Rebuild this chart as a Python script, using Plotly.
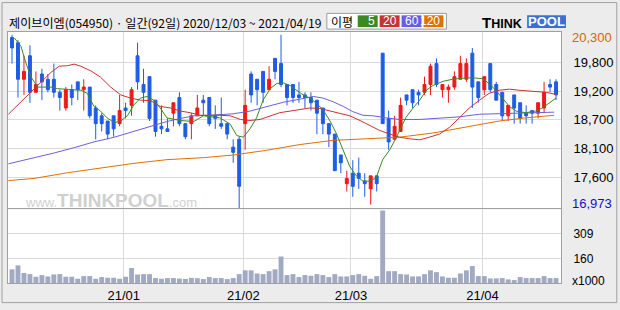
import plotly.graph_objects as go

# ---------------- data ----------------
opens  = [20250,20150,19450,19900,19200,19550,19450,19450,19200,18900,19250,19400,19250,19300,18900,18750,18650,18750,18600,18900,
          18950,19900,19350,19500,19050,18550,18500,18800,19100,18600,18600,18750,19050,19100,18750,18600,18600,18150,18300,18600,
          19550,19450,19600,19250,19850,19750,19350,19350,19150,19150,19100,19050,18900,18600,18400,18000,17450,17650,17650,17500,
          17350,17600,19950,18700,18300,18450,19150,19250,19200,19200,19350,19750,19250,19250,19300,19450,19450,19950,19400,19250,
          19750,19350,19200,18750,19150,19000,18800,18850,18800,18900,19350,19400]
highs  = [20300,20200,19900,20100,19600,19650,19550,19750,19250,19300,19350,19400,19450,19300,18950,18800,18650,18750,19150,19000,
          19300,20150,19650,19500,19050,18950,18700,19000,19200,18600,18800,19150,19150,19100,18950,19100,18600,18300,18350,19250,
          19600,19450,19600,19700,19850,20300,19350,19350,19400,19200,19200,19050,18900,18600,18400,18000,17700,17900,17950,17650,
          17600,17600,19950,18850,18750,19100,19150,19250,19250,19500,19750,19850,19350,19350,19600,19900,19850,20050,19400,19500,
          19750,19400,19200,18950,19150,19000,18950,18850,19000,19400,19450,19450]
lows   = [19750,19100,19150,19000,19200,19050,19200,19100,18850,18850,18950,19050,18850,18700,18300,18450,18300,18350,18550,18700,
          18750,19250,19000,18650,18350,18400,18450,18550,18550,18300,18300,18750,18750,18550,18500,18500,18300,17850,16973,18100,
          19000,18950,19000,19250,19450,19300,18950,19000,19000,18900,18850,18400,18400,18150,17700,17650,17300,17200,17350,17200,
          17050,17300,18600,18100,18300,18450,18950,18900,18950,19150,19150,19300,19100,19000,19250,19450,19400,18900,19000,19150,
          19200,19050,18650,18650,18600,18600,18600,18600,18700,18800,19200,19050]
closes = [20050,19450,19600,19200,19350,19400,19250,19200,19100,19250,19100,19250,19300,18750,18600,18600,18400,18500,18850,18850,
          19250,19400,19200,18700,18450,18500,18450,19000,18600,18350,18750,18900,19000,18600,18700,18550,18400,18050,17400,18950,
          19150,19250,19200,19450,19600,19350,19100,19100,19100,19100,19000,18800,18600,18400,17700,17850,17550,17400,17550,17450,
          17600,17450,18600,18250,18550,18950,19050,19000,19150,19350,19700,19350,19350,19300,19500,19750,19750,19300,19100,19500,
          19250,19050,18750,18950,18900,18700,18750,18800,19000,19200,19300,19150]
volumes = [94,118,72,65,49,59,51,63,65,49,49,37,53,53,37,47,43,43,37,49,
           102,63,65,65,41,37,41,41,38,36,42,40,35,47,41,41,35,41,65,88,
           88,69,65,83,94,172,59,65,47,59,55,65,59,47,65,51,51,59,65,55,
           37,53,452,83,83,65,63,51,51,65,88,77,51,43,43,69,88,114,53,53,
           39,39,41,33,29,47,41,41,41,53,41,41]

ma5_x = [0.4,1.5,2.3,3.2,4.3,6.5,7.6,9.3,11.5,12.6,13.7,14.8,15.9,17.1,18.2,19.3,20.4,21.5,22.6,23.7,24.8,25.9,28.2,30.4,32,
         34.8,36.5,37.6,38.7,39.8,40.9,42,43.2,44.3,45.4,46.5,47.6,48.7,49.8,50.9,52,53.2,54.3,55.4,56.5,57.6,58.7,59.8,60.9,
         62,63.2,64.3,65.4,65.9,67.1,68.2,69.3,70.4,72.1,73.7,75.4,77,78.7,79.8,80.9,82,83.2,84.3,85.9,87.6,88.7,89.8,91]
ma5 = [20240,20080,19770,19490,19300,19300,19270,19260,19240,19180,18930,18840,18710,18620,18650,18750,18960,19090,19120,19050,
       18900,18710,18660,18640,18750,18710,18590,18370,18340,18500,18710,19050,19270,19370,19380,19330,19240,19150,19090,18990,
       18870,18650,18400,18090,17780,17600,17500,17500,17560,17910,18100,18340,18590,18720,18900,19050,19240,19330,19410,19450,
       19470,19480,19460,19370,19240,19090,18930,18840,18810,18840,18900,18990,19090]
ma20_x = [-0.6,1.5,3.2,4.8,6.5,7.9,9.3,10.4,11.5,13.2,14.8,16.5,18.2,19.8,21.5,23.2,24.8,26.5,28.2,29.8,31.5,34.8,36.5,38.2,
          39.8,41.5,43.2,44.8,46.5,48.2,49.8,51.5,53.2,54.8,56.5,58.2,59.8,61.5,63.2,64.8,66.5,68.2,69.8,71.5,73.2,74.8,76.5,
          78.2,79.8,81.5,83.2,84.8,87.1,89.3,91]
ma20 = [18780,19020,19210,19400,19580,19700,19710,19740,19700,19610,19490,19300,19150,19090,19050,19040,18930,18900,18840,18810,
        18760,18760,18750,18680,18660,18680,18750,18810,18840,18870,18900,18890,18840,18790,18750,18660,18560,18470,18400,18340,
        18310,18290,18340,18400,18530,18710,18900,19050,19180,19240,19260,19240,19220,19200,19160]
ma60_x = [-0.6,3.7,7.1,10.4,13.7,17.1,20.4,23.2,25.9,28.2,30.4,33.2,37.1,39.8,42.6,45.4,48.2,50.4,52,53.7,55.4,57,58.7,60.4,
          62.6,64.8,68.2,71.5,74.8,78.2,81.5,84.8,88.2,90.7]
ma60 = [17830,17940,18040,18140,18250,18340,18450,18540,18640,18700,18750,18760,18790,18840,18930,19010,19070,19120,19090,19020,
        18930,18830,18760,18750,18710,18680,18680,18700,18730,18780,18790,18790,18810,18820]
ma120_x = [-0.6,3.7,9.3,14.8,20.4,25.9,32.2,37.1,42.6,48.2,53.7,59.3,64.8,70.4,75.9,81.5,85.9,90.7]
ma120 = [17510,17550,17660,17750,17840,17910,17950,18000,18090,18200,18280,18310,18340,18420,18530,18650,18710,18760]

month_start_idx = [19, 39, 57, 79]
month_labels = ["21/01", "21/02", "21/03", "21/04"]
price_ticks = [17575, 18125, 18675, 19225, 19775]
price_labels = ["17,600", "18,100", "18,700", "19,200", "19,800"]
vol_ticks = [160, 309]
vol_labels = ["160", "309"]
price_max_label = "20,300"
price_min_label = "16,973"
title_text = "제이브이엠(054950) · 일간(92일) 2020/12/03 ~ 2021/04/19"

# ---------------- style ----------------
RED = "#f01818"
BLUE = "#1f5ce6"
VOLC = "#a1aac2"
C5, C20, C60, C120 = "#3a8a22", "#c83232", "#6a5ee0", "#e07000"
GRID = "#dadada"
FRAME = "#a0a0a0"
FONT = "Liberation Sans"

idx = list(range(len(closes)))

fig = go.Figure()
fig.add_trace(go.Candlestick(
    x=idx, open=opens, high=highs, low=lows, close=closes,
    increasing=dict(line=dict(color=RED, width=1), fillcolor=RED),
    decreasing=dict(line=dict(color=BLUE, width=1), fillcolor=BLUE),
    whiskerwidth=0, xaxis="x", yaxis="y", hoverinfo="skip", showlegend=False))
for xs, ys, col in [(ma120_x, ma120, C120), (ma60_x, ma60, C60), (ma20_x, ma20, C20), (ma5_x, ma5, C5)]:
    fig.add_trace(go.Scatter(x=xs, y=ys, mode="lines", line=dict(color=col, width=1),
                             xaxis="x", yaxis="y", hoverinfo="skip", showlegend=False))
fig.add_trace(go.Bar(x=idx, y=volumes, marker=dict(color=VOLC, line=dict(width=0)), width=0.82,
                     xaxis="x2", yaxis="y2", hoverinfo="skip", showlegend=False))

L, R, T, B = 7, 58, 32, 22
W, H = 620, 310
PW, PH = W - L - R, H - T - B
def px(x): return (x - L) / PW
def py(y): return (H - B - y) / PH

tick_pos = [i - 0.3 for i in month_start_idx]
common_x = dict(range=[-0.67, 91.83], showgrid=True, gridcolor=GRID, gridwidth=1, zeroline=False,
                showline=True, linecolor=FRAME, mirror=True, ticks="", tickvals=tick_pos, fixedrange=True)
common_y = dict(side="right", showgrid=True, gridcolor=GRID, zeroline=False, showline=True, linecolor=FRAME,
                mirror=True, ticks="", ticklabelstandoff=9, fixedrange=True)

fig.update_layout(
    width=W, height=H, margin=dict(l=L, r=R, t=T, b=B, pad=0),
    paper_bgcolor="#ececec", plot_bgcolor="white", showlegend=False,
    font=dict(family=FONT, color="black"),
    xaxis=dict(**common_x, domain=[0, 1], anchor="y", showticklabels=False, rangeslider=dict(visible=False)),
    xaxis2=dict(**common_x, domain=[0, 1], anchor="y2", matches="x", ticktext=month_labels,
                tickfont=dict(size=13, family=FONT, color="black")),
    yaxis=dict(**common_y, domain=[76 / PH, 1], anchor="x", range=[16975, 20355],
               tickvals=price_ticks, ticktext=price_labels, tickfont=dict(size=13, family=FONT, color="black")),
    yaxis2=dict(**common_y, domain=[0, 75 / PH], anchor="x2", range=[11, 458],
                tickvals=vol_ticks, ticktext=vol_labels, tickfont=dict(size=12, family=FONT, color="black")),
)

shapes = []
ann = []
# outer border
shapes.append(dict(type="rect", xref="paper", yref="paper", x0=px(1), x1=px(618), y0=py(308), y1=py(2),
                   line=dict(color=FRAME, width=1), fillcolor="rgba(0,0,0,0)", layer="below"))
# title
ann.append(dict(text=title_text, xref="paper", yref="paper", x=px(6), y=py(22), xanchor="left", yanchor="middle",
                showarrow=False, font=dict(family="Noto Sans CJK KR", size=12.1, color="black")))
# MA legend box
shapes.append(dict(type="rect", xref="paper", yref="paper", x0=px(327), x1=px(447), y0=py(29), y1=py(13),
                   line=dict(color="#9a9a9a", width=1), fillcolor="white"))
ann.append(dict(text="이평", xref="paper", yref="paper", x=px(342), y=py(21), xanchor="center", yanchor="middle",
                showarrow=False, font=dict(family="Noto Sans CJK KR", size=12, color="black")))
for (x0, x1, col, lab) in [(358, 378, C5, "5"), (380, 400, C20, "20"), (402, 422, C60, "60"), (424, 444, C120, "120")]:
    shapes.append(dict(type="rect", xref="paper", yref="paper", x0=px(x0), x1=px(x1), y0=py(27), y1=py(15),
                       line=dict(width=0), fillcolor=col))
    ann.append(dict(text=lab, xref="paper", yref="paper", x=px(x1 - 1), y=py(21), xanchor="right", yanchor="middle",
                    showarrow=False, font=dict(family=FONT, size=12, color="white")))
# logo
ann.append(dict(text="<b>T<span style='font-size:12.5px'>HINK</span></b>", xref="paper", yref="paper", x=px(481), y=py(22),
                xanchor="left", yanchor="middle", showarrow=False, font=dict(family=FONT, size=15, color="black")))
shapes.append(dict(type="rect", xref="paper", yref="paper", x0=px(528), x1=px(567), y0=py(28), y1=py(15),
                   line=dict(width=0), fillcolor="#3c6fd6"))
ann.append(dict(text="<b>POOL</b>", xref="paper", yref="paper", x=px(547.5), y=py(21.5), xanchor="center", yanchor="middle",
                showarrow=False, font=dict(family=FONT, size=13, color="white")))
# watermark
ann.append(dict(text="www.<b><span style='font-size:19px'>THINKPOOL</span></b>.com", xref="paper", yref="paper",
                x=px(22), y=py(204), xanchor="left", yanchor="middle", showarrow=False,
                font=dict(family=FONT, size=13, color="#d0d0d0")))
# max/min labels and unit
ann.append(dict(text=price_max_label, xref="paper", yref="paper", x=px(571), y=py(37.5), xanchor="left", yanchor="middle",
                showarrow=False, font=dict(family=FONT, size=13, color="#d06800")))
ann.append(dict(text=price_min_label, xref="paper", yref="paper", x=px(571), y=py(207), xanchor="left", yanchor="middle",
                showarrow=False, font=dict(family=FONT, size=13, color="#1010c8")))
ann.append(dict(text="x1000", xref="paper", yref="paper", x=px(571), y=py(286), xanchor="left", yanchor="middle",
                showarrow=False, font=dict(family=FONT, size=12, color="black")))

fig.update_layout(shapes=shapes, annotations=ann)
fig.write_html("out.html", config={"displayModeBar": False})
